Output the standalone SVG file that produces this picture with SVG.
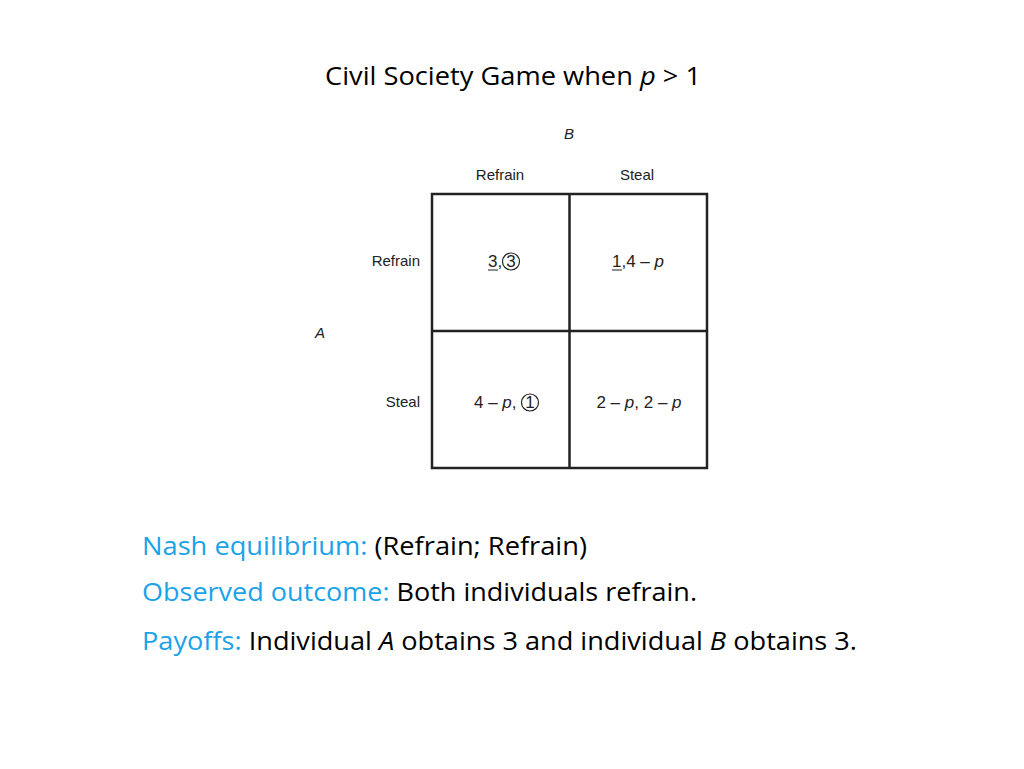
<svg xmlns="http://www.w3.org/2000/svg" width="1024" height="769" viewBox="0 0 1024 769">
<style>
.t{font-family:"Open Sans","Liberation Sans",sans-serif;fill:#000}
.s{font-family:"Liberation Sans",Arial,sans-serif;font-size:15px;fill:#222}
.m{font-family:"Liberation Sans",Arial,sans-serif;font-size:17px;fill:#222}
.c{fill:none;stroke:#222;stroke-width:1.2}
.b{fill:#1aa3e8}
</style>
<rect width="1024" height="769" fill="#fff"/>
<text class="t" x="325" y="85" font-size="25" textLength="376" lengthAdjust="spacingAndGlyphs">Civil Society Game when <tspan font-style="italic">p</tspan> &gt; 1</text>
<text class="s" x="569" y="139" text-anchor="middle" font-style="italic" font-size="14">B</text>
<text class="s" x="320" y="338" text-anchor="middle" font-style="italic">A</text>
<text class="s" x="500" y="180" text-anchor="middle">Refrain</text>
<text class="s" x="637" y="180" text-anchor="middle">Steal</text>
<text class="s" x="420" y="266" text-anchor="end">Refrain</text>
<text class="s" x="420" y="407" text-anchor="end">Steal</text>
<g id="matrix" fill="none" stroke="#222" stroke-width="2.5">
<rect x="432" y="194" width="275" height="274"/>
<line x1="569.5" y1="194" x2="569.5" y2="468"/>
<line x1="432" y1="331" x2="707" y2="331"/>
</g>
<g id="cell11"><text class="m" x="488" y="267">3,</text><text class="m" x="511" y="267" text-anchor="middle" font-size="15">3</text><line x1="488" y1="270" x2="498" y2="270" stroke="#222"/><circle class="c" cx="511" cy="261.5" r="8.5"/></g>
<g id="cell12"><text class="m" x="612" y="267">1,4 – <tspan font-style="italic">p</tspan></text><line x1="612" y1="270" x2="622" y2="270" stroke="#222"/></g>
<g id="cell21"><text class="m" x="474" y="408">4 – <tspan font-style="italic">p</tspan>,</text><text class="m" x="530" y="408" text-anchor="middle" font-size="15">1</text><circle class="c" cx="530" cy="402.5" r="8.5"/></g>
<g id="cell22"><text class="m" x="639" y="408" text-anchor="middle">2 – <tspan font-style="italic">p</tspan>, 2 – <tspan font-style="italic">p</tspan></text></g>
<text class="t" x="142" y="555" font-size="26" textLength="445" lengthAdjust="spacingAndGlyphs"><tspan class="b">Nash equilibrium:</tspan> (Refrain; Refrain)</text>
<text class="t" x="142" y="601" font-size="26" textLength="555" lengthAdjust="spacingAndGlyphs"><tspan class="b">Observed outcome:</tspan> Both individuals refrain.</text>
<text class="t" x="142" y="650" font-size="26" textLength="715" lengthAdjust="spacingAndGlyphs"><tspan class="b">Payoffs:</tspan> Individual <tspan font-style="italic">A</tspan> obtains 3 and individual <tspan font-style="italic">B</tspan> obtains 3.</text>
</svg>
